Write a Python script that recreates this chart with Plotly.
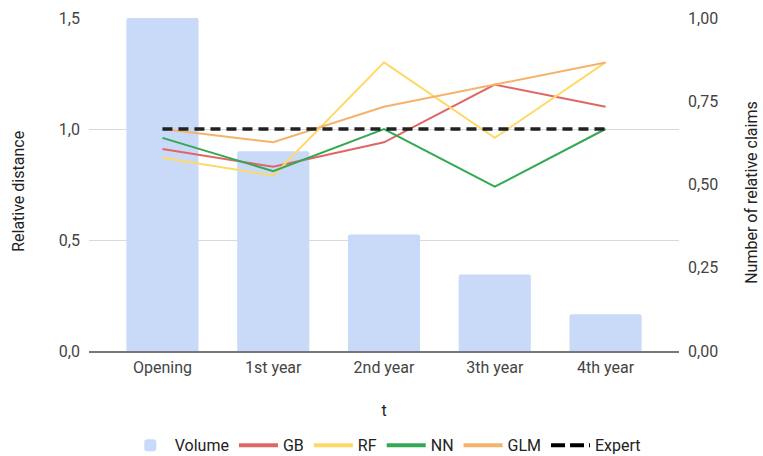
import plotly.graph_objects as go

categories = ["Opening", "1st year", "2nd year", "3th year", "4th year"]
volume = [1.00, 0.60, 0.35, 0.23, 0.11]
gb = [0.91, 0.83, 0.94, 1.20, 1.10]
rf = [0.87, 0.79, 1.30, 0.96, 1.30]
nn = [0.96, 0.81, 1.00, 0.74, 1.00]
glm = [1.00, 0.94, 1.10, 1.20, 1.30]
expert = [1.00, 1.00, 1.00, 1.00, 1.00]

left_tickvals = [0, 0.5, 1.0, 1.5]
left_ticktext = ["0,0", "0,5", "1,0", "1,5"]
right_tickvals = [0, 0.25, 0.5, 0.75, 1.0]
right_ticktext = ["0,00", "0,25", "0,50", "0,75", "1,00"]

FONT = "Roboto, Arial, sans-serif"
colors = {"GB": "#e06666", "RF": "#ffd966", "NN": "#34a853", "GLM": "#f6b26b", "Expert": "#212121"}

fig = go.Figure()

fig.add_trace(go.Bar(x=categories, y=volume, name="Volume", marker=dict(color="#c9daf8", line=dict(width=0)),
                     width=0.651, yaxis="y"))

series = [("GB", gb), ("RF", rf), ("NN", nn), ("GLM", glm)]
for name, vals in series:
    fig.add_trace(go.Scatter(x=categories, y=vals, name=name, mode="lines",
                             line=dict(color=colors[name], width=2), yaxis="y2", showlegend=False))
fig.add_trace(go.Scatter(x=categories, y=expert, name="Expert", mode="lines",
                         line=dict(color=colors["Expert"], width=3.5, dash="10px,6px"), yaxis="y2", showlegend=False))

# legend-only entries (no data) with thicker keys
for name, _ in series:
    fig.add_trace(go.Scatter(x=[None], y=[None], name=name, mode="lines",
                             line=dict(color=colors[name], width=4), yaxis="y2"))
fig.add_trace(go.Scatter(x=[None], y=[None], name="Expert", mode="lines",
                         line=dict(color="#000000", width=4, dash="14px,5px"), yaxis="y2"))

title_font = dict(family=FONT, size=16, color="#222")

fig.update_layout(
    width=763, height=456, autosize=False,
    margin=dict(l=89, r=84, t=18, b=105, autoexpand=False),
    paper_bgcolor="white", plot_bgcolor="white",
    font=dict(family=FONT, size=16, color="#444"),
    barcornerradius=2,
    showlegend=True,
    legend=dict(orientation="h", x=0.503, xanchor="center", y=-0.283, yanchor="middle",
                font=dict(family=FONT, size=16, color="#222"), itemwidth=39, traceorder="normal"),
    xaxis=dict(type="category", range=[-0.663, 4.663], showline=True, linecolor="#777", linewidth=2,
               showgrid=False, ticks="", ticklabelstandoff=1,
               tickfont=dict(family=FONT, size=16, color="#444"),
               title=dict(text="t", font=title_font, standoff=29)),
    yaxis=dict(side="right", range=[0, 1], tickvals=right_tickvals, ticktext=right_ticktext,
               showgrid=False, zeroline=False, showline=False, ticks="", ticklabelstandoff=8,
               tickfont=dict(family=FONT, size=16, color="#444")),
    yaxis2=dict(side="left", overlaying="y", range=[0, 1.5], tickvals=left_tickvals, ticktext=left_ticktext,
                showgrid=True, gridcolor="#d9d9d9", gridwidth=1, zeroline=False, showline=False, ticks="",
                ticklabelstandoff=8,
                tickfont=dict(family=FONT, size=16, color="#444")),
    annotations=[
        dict(text="Relative distance", xref="paper", yref="paper", x=-0.1186, y=0.478,
             xanchor="center", yanchor="middle", textangle=-90, showarrow=False, font=title_font),
        dict(text="Number of relative claims", xref="paper", yref="paper", x=1.1237, y=0.478,
             xanchor="center", yanchor="middle", textangle=-90, showarrow=False, font=title_font),
    ],
)

fig.write_html("out.html", config={"displayModeBar": False},
               post_script="document.body.style.margin='0';document.body.style.overflow='hidden';")
